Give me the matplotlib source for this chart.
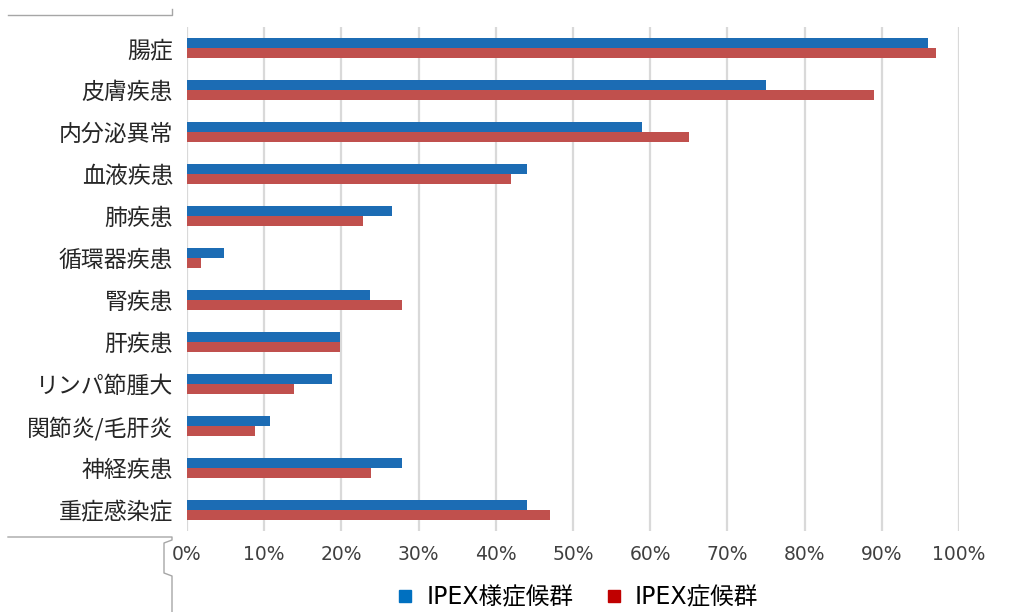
import matplotlib
matplotlib.use("Agg")
import matplotlib.pyplot as plt
import matplotlib.lines as mlines
import numpy as np

plt.rcParams['font.family'] = ['Noto Sans CJK JP', 'DejaVu Sans']

categories = ["腸症", "皮膚疾患", "内分泌異常", "血液疾患", "肺疾患", "循環器疾患",
              "腎疾患", "肝疾患", "リンパ節腫大", "関節炎/毛肝炎", "神経疾患", "重症感染症"]
ipex_like = [96, 75, 59, 44, 26.5, 4.8, 23.7, 19.8, 18.8, 10.8, 27.8, 44]
ipex = [97, 89, 65, 42, 22.8, 1.8, 27.8, 19.8, 13.9, 8.8, 23.8, 47]
xticks = [0, 10, 20, 30, 40, 50, 60, 70, 80, 90, 100]

fig = plt.figure(figsize=(10.24, 6.12), dpi=100)
ax = fig.add_axes([187/1024, 1 - 531/612, (959 - 187)/1024, (531 - 27)/612])

y = np.arange(len(categories))
h = 0.245
ax.barh(y - h/2, ipex_like, height=h, color="#1C6CB4", zorder=3)
ax.barh(y + h/2, ipex, height=h, color="#C0504D", zorder=3)

ax.set_ylim(len(categories) - 0.5, -0.5)
ax.set_xlim(0, 100)
ax.set_xticks(xticks)
ax.set_xticklabels([f"{t}%" for t in xticks], family=['DejaVu Sans'], fontsize=13.5, color="#404040")
ax.set_yticks(y)
ax.set_yticklabels(categories, fontsize=16.5, color="#262626")
ax.tick_params(axis='x', length=0, pad=10)
ax.tick_params(axis='y', length=0, pad=10)
ax.grid(axis='x', color="#D9D9D9", linewidth=1.6, zorder=0)
for s in ax.spines.values():
    s.set_visible(False)

# legend (marker colours differ from the bars in the original)
h1 = mlines.Line2D([], [], marker='s', linestyle='none', color="#0070C0", markersize=8)
h2 = mlines.Line2D([], [], marker='s', linestyle='none', color="#C00000", markersize=8)
fig.legend([h1, h2], ["IPEX様症候群", "IPEX症候群"], loc='center', bbox_to_anchor=(576/1024, 1 - 597/612),
           ncol=2, frameon=False, handlelength=1.0, handletextpad=0.4, columnspacing=1.2,
           prop={'family': ['DejaVu Sans', 'Noto Sans CJK JP'], 'size': 17})

# decorative frame fragments on the left
def fline(xs, ys):
    fig.add_artist(mlines.Line2D([v/1024 for v in xs], [1 - v/612 for v in ys],
                                 color="#A6A6A6", linewidth=1, transform=fig.transFigure))

fline([8, 172, 172], [15, 15, 9])
fline([8, 172, 172, 164, 164, 172, 172], [537, 537, 540, 543, 573, 576, 612])

fig.savefig("out.png", dpi=100, facecolor="white")
